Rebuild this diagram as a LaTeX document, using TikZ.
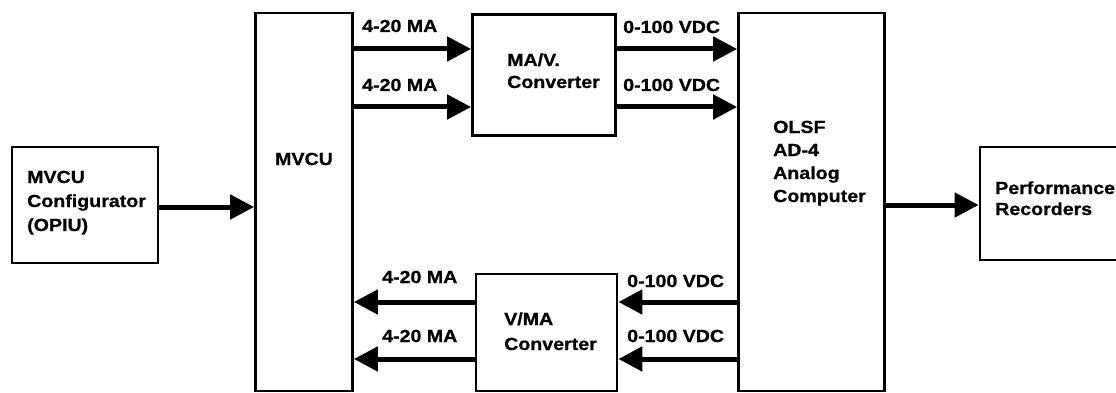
\documentclass[tikz,border=0pt]{standalone}
\usepackage{fontspec}
\setmainfont{Liberation Sans}[FakeStretch=1.12, BoldFeatures={FakeBold=0.8}]
\usetikzlibrary{arrows.meta}
\tikzset{
  box/.style={draw, line width=2.8pt, inner sep=0pt},
  lbl/.style={inner sep=0pt, anchor=base west, font=\fontsize{17.5}{22}\selectfont\bfseries, align=left},
  arr/.style={line width=5pt, -{Triangle[length=24pt,width=24pt]}}
}
\begin{document}
\begin{tikzpicture}[x=1pt,y=-1pt]
\useasboundingbox (0,0) rectangle (1116,393);
\clip (0,0) rectangle (1116,393);
\fill[white] (0,0) rectangle (1116,393);
% boxes
\node[box, minimum width=146pt, minimum height=116pt] (cfg) at (85,205) {};
\node[box, minimum width=97pt, minimum height=378pt] (mvcu) at (304,202) {};
\node[box, minimum width=143pt, minimum height=121pt] (mav) at (544,75) {};
\node[box, minimum width=141pt, minimum height=117pt] (vma) at (546.5,332.5) {};
\node[box, minimum width=146pt, minimum height=378pt] (olsf) at (811.5,202) {};
\node[box, minimum width=150pt, minimum height=113pt] (perf) at (1055,203.5) {};
% texts (anchor = baseline of last line)
\node[lbl, font=\fontsize{17.5}{24}\selectfont\bfseries] (tcfg) at (27,231) {MVCU\\Configurator\\(OPIU)};
\node[lbl, anchor=base] (tmvcu) at (304,165) {MVCU};
\node[lbl, font=\fontsize{17.5}{22}\selectfont\bfseries] (tmav) at (507,88) {MA/V.\\Converter};
\node[lbl, font=\fontsize{17.5}{25}\selectfont\bfseries] (tvma) at (504,350) {V/MA\\Converter};
\node[lbl, font=\fontsize{17.5}{23}\selectfont\bfseries] (tolsf) at (773,202) {OLSF\\AD-4\\Analog\\Computer};
\node[lbl, font=\fontsize{17.5}{21}\selectfont\bfseries] (tperf) at (995,215) {Performance\\Recorders};
% connector labels
\node[lbl] (l1) at (362,32) {4-20 MA};
\node[lbl] (l2) at (362,91) {4-20 MA};
\node[lbl] (l3) at (623,33) {0-100 VDC};
\node[lbl] (l4) at (623,91) {0-100 VDC};
\node[lbl] (l5) at (382,283) {4-20 MA};
\node[lbl] (l6) at (382,342) {4-20 MA};
\node[lbl] (l7) at (627,287) {0-100 VDC};
\node[lbl] (l8) at (627,342) {0-100 VDC};
% connectors
\draw[arr] (cfg.east |- 0,207) -- (mvcu.west |- 0,207);
\draw[arr] (mvcu.east |- 0,49) -- (mav.west |- 0,49);
\draw[arr] (mvcu.east |- 0,107) -- (mav.west |- 0,107);
\draw[arr] (mav.east |- 0,49) -- (olsf.west |- 0,49);
\draw[arr] (mav.east |- 0,107) -- (olsf.west |- 0,107);
\draw[arr] (olsf.west |- 0,302) -- (vma.east |- 0,302);
\draw[arr] (olsf.west |- 0,359) -- (vma.east |- 0,359);
\draw[arr] (vma.west |- 0,302) -- (mvcu.east |- 0,302);
\draw[arr] (vma.west |- 0,359) -- (mvcu.east |- 0,359);
\draw[arr] (olsf.east |- 0,205) -- (perf.west |- 0,205);
\end{tikzpicture}
\end{document}
